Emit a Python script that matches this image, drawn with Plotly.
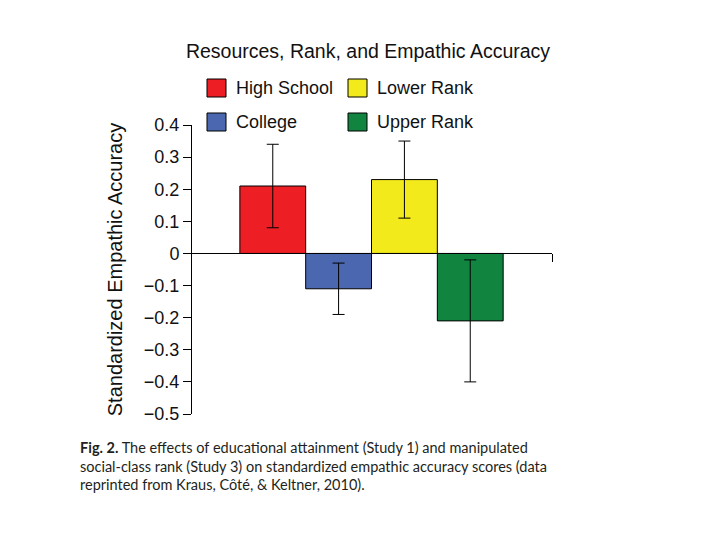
import plotly.graph_objects as go

# ---- data ----
categories = ["High School", "College", "Lower Rank", "Upper Rank"]
means = [0.21, -0.11, 0.23, -0.21]
err_plus = [0.13, 0.08, 0.12, 0.19]
err_minus = [0.13, 0.08, 0.12, 0.19]
colors = ["#ED1F24", "#4A67B0", "#F2EA1B", "#118440"]
y_ticks = [0.4, 0.3, 0.2, 0.1, 0, -0.1, -0.2, -0.3, -0.4, -0.5]

title_text = "Resources, Rank, and Empathic Accuracy"
y_title = "Standardized Empathic Accuracy"
caption_lines = [
    "<b>Fig. 2.</b> The effects of educational attainment (Study 1) and manipulated",
    "social-class rank (Study 3) on standardized empathic accuracy scores (data",
    "reprinted from Kraus, Côté, &amp; Keltner, 2010).",
]

W, H = 720, 540
OFF = 8  # page body margin
L, R, T, B = 192 - OFF, 168 + OFF, 125 - OFF, 126 + OFF
X_RANGE = [-1.227, 4.242]
Y_RANGE = [-0.5, 0.4]


def px_x(px):
    return (px - OFF - L) / (W - L - R)


def px_y(py):
    return (H - B - (py - OFF)) / (H - T - B)


fig = go.Figure()
for i, (cat, m, ep, em, c) in enumerate(zip(categories, means, err_plus, err_minus, colors)):
    fig.add_trace(go.Bar(
        x=[i], y=[m], name=cat, width=1,
        marker=dict(color=c, line=dict(color="black", width=1)),
        error_y=dict(type="data", array=[ep], arrayminus=[em], color="black",
                     thickness=1, width=6, symmetric=False),
        showlegend=False,
    ))

shapes = []
annotations = []

# manual 2x2 legend (order as in reference)
legend_order = ["High School", "Lower Rank", "College", "Upper Rank"]
col_sq = [207, 348]
row_c = [88, 122]
for k, name in enumerate(legend_order):
    r, cidx = divmod(k, 2)
    c = colors[categories.index(name)]
    x0 = col_sq[cidx]
    yc = row_c[r]
    shapes.append(dict(type="rect", xref="paper", yref="paper",
                       x0=px_x(x0), x1=px_x(x0 + 19), y0=px_y(yc - 9), y1=px_y(yc + 9),
                       fillcolor=c, line=dict(color="black", width=1)))
    annotations.append(dict(text=name, xref="paper", yref="paper", x=px_x(x0 + 27), y=px_y(yc),
                            xanchor="left", yanchor="middle", showarrow=False,
                            font=dict(family="Liberation Sans, Arial", size=18, color="#111")))

# caption
cap_y = [447, 466, 484]
for line, yy in zip(caption_lines, cap_y):
    annotations.append(dict(text=line, xref="paper", yref="paper", x=px_x(78), y=px_y(yy),
                            xanchor="left", yanchor="middle", showarrow=False,
                            font=dict(family="Lato", size=14.5, color="#231F20")))

zero_pos = (0 - Y_RANGE[0]) / (Y_RANGE[1] - Y_RANGE[0])

fig.update_layout(
    width=W, height=H,
    margin=dict(l=L, r=R, t=T, b=B, autoexpand=False),
    paper_bgcolor="white", plot_bgcolor="white",
    barmode="overlay",
    font=dict(family="Liberation Sans, Arial", color="#111"),
    title=dict(text=title_text, xref="container", yref="container",
               x=(368 - OFF) / W, y=1 - (51 - OFF) / H, xanchor="center", yanchor="middle",
               font=dict(size=19.5, color="#111")),
    xaxis=dict(range=X_RANGE, showgrid=False, zeroline=False, showline=True,
               linecolor="black", linewidth=1, anchor="free", position=zero_pos,
               ticks="outside", ticklen=8, tickcolor="black", tickwidth=1,
               tickvals=[X_RANGE[1] - 1e-6], showticklabels=False),
    yaxis=dict(range=Y_RANGE, showgrid=False, zeroline=False, showline=True,
               linecolor="black", linewidth=1, ticks="outside", ticklen=8,
               tickcolor="black", tickvals=y_ticks, tickfont=dict(size=18),
               title=dict(text=y_title, font=dict(size=20))),
    shapes=shapes,
    annotations=annotations,
)

fig.write_html("out.html")
